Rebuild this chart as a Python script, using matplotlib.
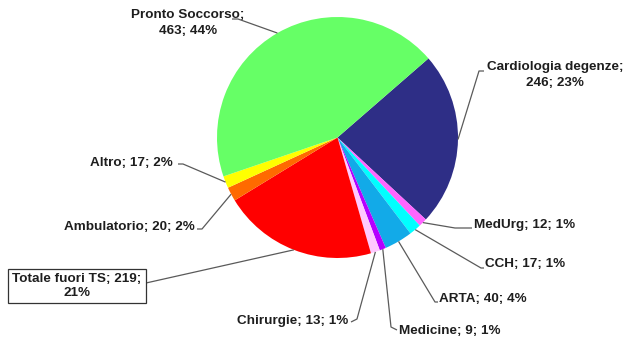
import matplotlib
matplotlib.use("Agg")
import matplotlib.pyplot as plt
import numpy as np

# Ricoveri per provenienza
categories = ["Cardiologia degenze", "MedUrg", "CCH", "ARTA", "Medicine",
              "Chirurgie", "Totale fuori TS", "Ambulatorio", "Altro", "Pronto Soccorso"]
values = [246, 12, 17, 40, 9, 13, 219, 20, 17, 463]
percent_labels = ["23%", "1%", "1%", "4%", "1%", "1%", "21%", "2%", "2%", "44%"]
colors = ["#2E2E86", "#FF66FF", "#00FFFF", "#12AAE8", "#B400FF",
          "#FFC8FF", "#FF0000", "#FF6A00", "#FFFF00", "#66FF66"]

W, H = 626, 339
fig = plt.figure(figsize=(W / 100, H / 100), dpi=100)
ax = fig.add_axes([0, 0, 1, 1])
ax.set_xlim(0, W)
ax.set_ylim(0, H)
ax.set_aspect("equal")
ax.axis("off")


def P(x, y):
    """pixel coordinates (y measured from the top) -> axes data coords"""
    return x, H - y


cx, cy = P(337.5, 137.5)
radius = 120.5
start = 41.0

wedges, _ = ax.pie(values, colors=colors, startangle=start, counterclock=False,
                   radius=radius, center=(cx, cy),
                   wedgeprops=dict(linewidth=0))
ax.set_xlim(0, W)
ax.set_ylim(0, H)

# label layout: text anchor, alignment, line break, leader waypoints
layout = {
    "Pronto Soccorso":     dict(xy=(188, 23), ha="center", two=True, box=False, path=[(238, 19), (232, 19)]),
    "Cardiologia degenze": dict(xy=(555, 75), ha="center", two=True, box=False, path=[(479, 71), (484, 71)]),
    "MedUrg":              dict(xy=(474, 225), ha="left", two=False, box=False, path=[(455, 228), (472, 228)]),
    "CCH":                 dict(xy=(485, 264), ha="left", two=False, box=False, path=[(481, 268), (484, 268)]),
    "ARTA":                dict(xy=(439, 299), ha="left", two=False, box=False, path=[(435, 302), (438, 302)]),
    "Medicine":            dict(xy=(399, 331), ha="left", two=False, box=False, path=[(391, 327), (397, 330)]),
    "Chirurgie":           dict(xy=(348, 321), ha="right", two=False, box=False, path=[(357, 319), (351, 322)]),
    "Totale fuori TS":     dict(xy=(77, 286), ha="center", two=True, box=True, path=[(146, 283)]),
    "Ambulatorio":         dict(xy=(195, 227), ha="right", two=False, box=False, path=[(202, 229), (197, 229)]),
    "Altro":               dict(xy=(173, 163), ha="right", two=False, box=False, path=[(183, 164), (178, 164)]),
}

text_kw = dict(fontsize=9.7, fontweight="bold", color="#1E1E1E",
               family=["Liberation Sans", "DejaVu Sans"])

for w, name, v, pct in zip(wedges, categories, values, percent_labels):
    spec = layout[name]
    mid = np.deg2rad((w.theta1 + w.theta2) / 2)
    ex, ey = cx + radius * np.cos(mid), cy + radius * np.sin(mid)
    pts = [(ex, ey)] + [P(*p) for p in spec["path"]]
    xs, ys = zip(*pts)
    ax.plot(xs, ys, color="#5A5A5A", lw=0.9, solid_capstyle="butt", zorder=1)

    if name == "Totale fuori TS":
        label = f"{name}; {v};\n{pct}"
    elif spec["two"]:
        label = f"{name};\n{v}; {pct}"
    else:
        label = f"{name}; {v}; {pct}"
    kw = dict(text_kw)
    kw["linespacing"] = 1.25 if spec["box"] else 1.45
    if spec["box"]:
        kw["bbox"] = dict(boxstyle="square,pad=0.3", fc="white", ec="#333333", lw=0.9)
    tx, ty = P(*spec["xy"])
    ax.text(tx, ty, label, ha=spec["ha"], va="center", multialignment="center",
            zorder=3, **kw)

fig.savefig("out.png", dpi=100, facecolor="white")
